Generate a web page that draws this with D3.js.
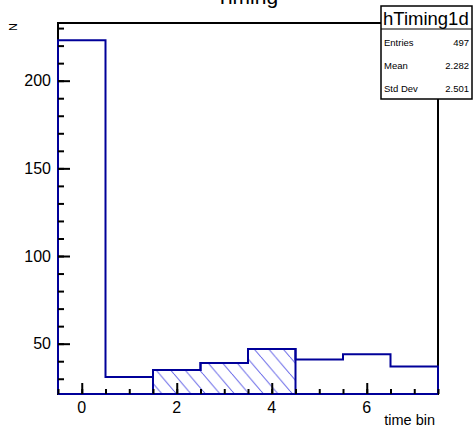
<!DOCTYPE html>
<html>
<head>
<meta charset="utf-8">
<script src="https://d3js.org/d3.v7.min.js"></script>
<style>
  body { margin: 0; background: #fff; }
  text { font-family: "Liberation Sans", Arial, sans-serif; fill: #000; }
</style>
</head>
<body>
<div id="chart"></div>
<script>
// bin centres and contents of hTiming1d
var binCenters = [0, 1, 2, 3, 4, 5, 6, 7];
var binCounts = [223, 31, 35, 39, 47, 41, 44, 37];
// bins drawn with the hatched fill
var hatchBins = [2, 3, 4];
var xTicks = [0, 2, 4, 6];
var yTicks = [50, 100, 150, 200];
var statNames = ["Entries", "Mean", "Std Dev"];
var statValues = ["497", "2.282", "2.501"];

var width = 473;
var height = 429;
var frameLeft = 58;
var frameRight = 438;
var frameTop = 23;
var frameBottom = 394;
var lineColor = "#000099";

var svg = d3
  .select("#chart")
  .append("svg")
  .attr("width", width)
  .attr("height", height);

svg.append("rect").attr("width", width).attr("height", height).attr("fill", "#fff");

var xScale = d3.scaleLinear().domain([-0.5, 7.5]).range([frameLeft, frameRight]);
var yScale = d3.scaleLinear().domain([21.3, 232.9]).range([frameBottom, frameTop]);

// hatch pattern
var defs = svg.append("defs");
var pat = defs
  .append("pattern")
  .attr("id", "hatch")
  .attr("patternUnits", "userSpaceOnUse")
  .attr("width", 14.5)
  .attr("height", 17);
pat.append("line")
  .attr("x1", 0).attr("y1", 0).attr("x2", 14.5).attr("y2", 17)
  .attr("stroke", "#6a6ae8").attr("stroke-width", 1);
pat.append("line")
  .attr("x1", -14.5).attr("y1", 0).attr("x2", 0).attr("y2", 17)
  .attr("stroke", "#6a6ae8").attr("stroke-width", 1);
pat.append("line")
  .attr("x1", 14.5).attr("y1", 0).attr("x2", 29).attr("y2", 17)
  .attr("stroke", "#6a6ae8").attr("stroke-width", 1);

// frame
svg.append("rect")
  .attr("x", frameLeft)
  .attr("y", frameTop)
  .attr("width", frameRight - frameLeft)
  .attr("height", frameBottom - frameTop)
  .attr("fill", "none")
  .attr("stroke", "#000")
  .attr("stroke-width", 2);

// hatched area
var hatchData = binCenters.filter(function(c) { return hatchBins.indexOf(c) >= 0; });
var hatchPts = [[xScale(hatchData[0] - 0.5), yScale.range()[0]]];
hatchData.forEach(function(c) {
  var v = binCounts[binCenters.indexOf(c)];
  hatchPts.push([xScale(c - 0.5), yScale(v)]);
  hatchPts.push([xScale(c + 0.5), yScale(v)]);
});
hatchPts.push([xScale(hatchData[hatchData.length - 1] + 0.5), yScale.range()[0]]);
svg.append("path")
  .attr("d", d3.line()(hatchPts) + "Z")
  .attr("fill", "url(#hatch)")
  .attr("stroke", "none");

// histogram outline
var pts = [[xScale(-0.5), yScale.range()[0]]];
binCenters.forEach(function(c, i) {
  pts.push([xScale(c - 0.5), yScale(binCounts[i])]);
  pts.push([xScale(c + 0.5), yScale(binCounts[i])]);
});
pts.push([xScale(7.5), yScale.range()[0]]);
svg.append("path")
  .attr("d", d3.line()(pts))
  .attr("fill", "none")
  .attr("stroke", lineColor)
  .attr("stroke-width", 2);
// hatched bins outline
svg.append("path")
  .attr("d", d3.line()(hatchPts))
  .attr("fill", "none")
  .attr("stroke", lineColor)
  .attr("stroke-width", 2);
svg.append("line")
  .attr("x1", frameLeft).attr("x2", frameRight)
  .attr("y1", frameBottom).attr("y2", frameBottom)
  .attr("stroke", lineColor).attr("stroke-width", 2);

// left axis, ticks pointing inside
var yAxis = d3.axisRight(yScale).tickValues(yTicks).tickSize(12).tickFormat("");
var yMinor = d3.axisRight(yScale).tickValues(d3.range(30, 233, 10)).tickSize(6).tickFormat("");
[yMinor, yAxis].forEach(function(ax) {
  var g = svg.append("g")
    .attr("transform", "translate(" + frameLeft + ",0)")
    .call(ax);
  g.select(".domain").remove();
  g.selectAll("line").attr("stroke", "#000").attr("stroke-width", 2);
});
svg.append("g")
  .selectAll("text")
  .data(yTicks)
  .enter()
  .append("text")
  .attr("x", 51)
  .attr("y", function(d) { return yScale(d) + 5.8; })
  .attr("text-anchor", "end")
  .attr("font-size", 16)
  .text(function(d) { return d; });

// bottom axis, ticks pointing inside
var xAxis = d3.axisTop(xScale).tickValues(xTicks).tickSize(11).tickFormat("");
var xMinor = d3.axisTop(xScale).tickValues(d3.range(-0.5, 7.6, 0.5)).tickSize(5).tickFormat("");
[xMinor, xAxis].forEach(function(ax) {
  var g = svg.append("g")
    .attr("transform", "translate(0," + frameBottom + ")")
    .call(ax);
  g.select(".domain").remove();
  g.selectAll("line").attr("stroke", "#000").attr("stroke-width", 2);
});
svg.append("g")
  .selectAll("text")
  .data(xTicks)
  .enter()
  .append("text")
  .attr("x", function(d) { return xScale(d); })
  .attr("y", 413)
  .attr("text-anchor", "middle")
  .attr("font-size", 16)
  .text(function(d) { return d; });

// axis titles
svg.append("text")
  .attr("x", 435)
  .attr("y", 425)
  .attr("text-anchor", "end")
  .attr("font-size", 14.5)
  .text("time bin");
svg.append("text")
  .attr("transform", "translate(17,23)rotate(-90)")
  .attr("text-anchor", "end")
  .attr("font-size", 11)
  .text("N");

// title
svg.append("text")
  .attr("x", 247)
  .attr("y", 4)
  .attr("text-anchor", "middle")
  .attr("font-size", 21)
  .text("Timing");

// stats box
var box = svg.append("g");
box.append("rect")
  .attr("x", 381)
  .attr("y", 6)
  .attr("width", 91)
  .attr("height", 93)
  .attr("fill", "#fff")
  .attr("stroke", "#000")
  .attr("stroke-width", 1.5);
box.append("line")
  .attr("x1", 381).attr("x2", 472)
  .attr("y1", 29).attr("y2", 29)
  .attr("stroke", "#000").attr("stroke-width", 1);
box.append("text")
  .attr("x", 383)
  .attr("y", 25)
  .attr("font-size", 18.5)
  .text("hTiming1d");
statNames.forEach(function(n, i) {
  box.append("text")
    .attr("x", 384)
    .attr("y", 46 + i * 22.8)
    .attr("font-size", 9.5)
    .text(n);
  box.append("text")
    .attr("x", 469)
    .attr("y", 46 + i * 22.8)
    .attr("text-anchor", "end")
    .attr("font-size", 9.5)
    .text(statValues[i]);
});
</script>
</body>
</html>
